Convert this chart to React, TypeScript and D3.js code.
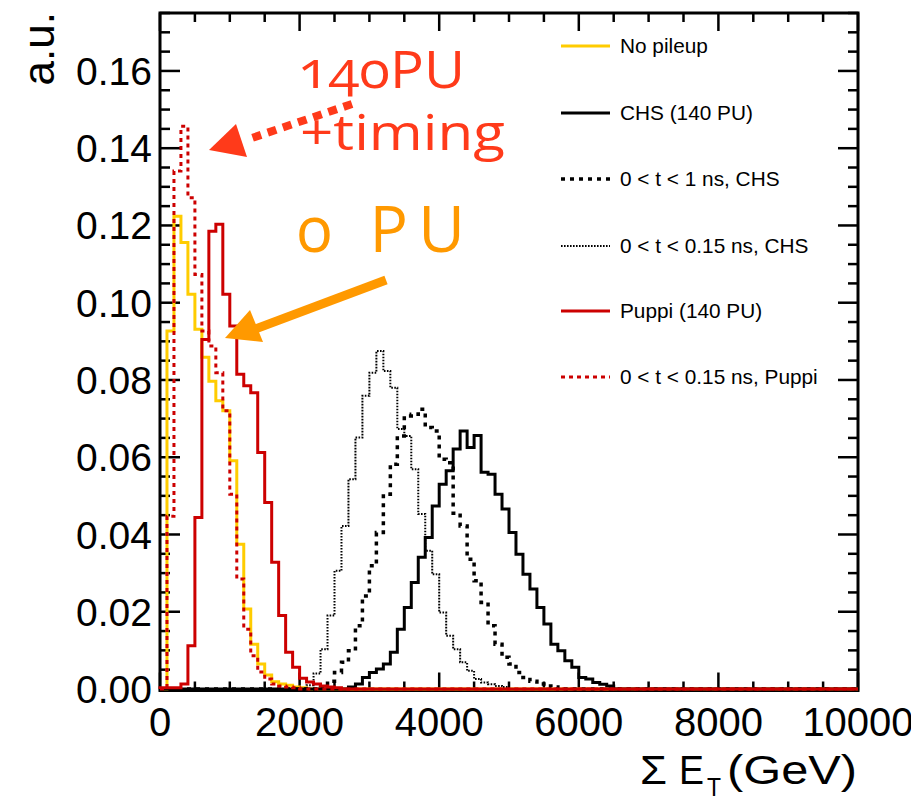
import React from 'react';
import * as d3 from 'd3';

// ---------- data ----------
const BIN_WIDTH = 100;
const N_BINS = 100;
const X_MAX = 10000;
const Y_MAX = 0.175;

// No pileup (bins start at 0 GeV)
const noPileupStart = 0;
const noPileup = [0, 0.0927, 0.1224, 0.1156, 0.1022, 0.0931, 0.0859, 0.0797, 0.0746, 0.072, 0.0591, 0.0375, 0.0207, 0.0116, 0.0065, 0.0036, 0.0019, 0.0013, 0.001, 0.0005, 0.0003];

// CHS (140 PU)
const chsStart = 27;
const chs = [0.0005, 0.0013, 0.003, 0.0043, 0.0052, 0.0065, 0.0095, 0.0155, 0.0211, 0.0276, 0.0341, 0.0392, 0.0474, 0.053, 0.0565, 0.0621, 0.0668, 0.0625, 0.0656, 0.0561, 0.0556, 0.0504, 0.0466, 0.0405, 0.0349, 0.0297, 0.0259, 0.0211, 0.0168, 0.0116, 0.0099, 0.0073, 0.0056, 0.003, 0.0026, 0.0017, 0.0012, 0.0008];

// 0 < t < 1 ns, CHS
const chsT1Start = 23;
const chsT1 = [0.0005, 0.002, 0.0043, 0.0069, 0.0099, 0.0164, 0.0241, 0.0319, 0.0405, 0.0504, 0.0582, 0.0655, 0.0707, 0.0711, 0.0724, 0.0677, 0.0668, 0.0595, 0.0586, 0.0455, 0.0422, 0.0336, 0.028, 0.0224, 0.0164, 0.0116, 0.0082, 0.0065, 0.0043, 0.003, 0.002, 0.0013, 0.0008, 0.0005];

// 0 < t < 0.15 ns, CHS
const chsT015Start = 21;
const chsT015 = [0.001, 0.004, 0.0103, 0.019, 0.0306, 0.0422, 0.0543, 0.0651, 0.0759, 0.0819, 0.0875, 0.0823, 0.078, 0.0673, 0.0655, 0.0569, 0.0453, 0.0358, 0.0297, 0.0198, 0.0138, 0.0103, 0.0069, 0.0047, 0.0026, 0.0017, 0.0012, 0.0008, 0.0005];

// Puppi (140 PU)
const puppiStart = 0;
const puppi = [0.0003, 0.0003, 0.0003, 0.0013, 0.0112, 0.0444, 0.0905, 0.1185, 0.1203, 0.1022, 0.094, 0.0815, 0.0785, 0.0767, 0.0612, 0.0483, 0.0328, 0.019, 0.0095, 0.0056, 0.0028, 0.0018, 0.0013, 0.0008, 0.0005, 0.0003];

// 0 < t < 0.15 ns, Puppi
const puppiTStart = 0;
const puppiT = [0, 0.0447, 0.1341, 0.1457, 0.1272, 0.1073, 0.0927, 0.0888, 0.0819, 0.072, 0.0504, 0.0285, 0.0155, 0.0086, 0.0044, 0.0026, 0.0013, 0.0008, 0.0005, 0.0003];

const xTickValues = [0, 2000, 4000, 6000, 8000, 10000];
const xTickLabels = ['0', '2000', '4000', '6000', '8000', '10000'];
const yTickValues = [0, 0.02, 0.04, 0.06, 0.08, 0.1, 0.12, 0.14, 0.16];
const yTickLabels = ['0.00', '0.02', '0.04', '0.06', '0.08', '0.10', '0.12', '0.14', '0.16'];

const legendLabels = ['No pileup', 'CHS (140 PU)', '0 < t < 1 ns, CHS', '0 < t < 0.15 ns, CHS', 'Puppi (140 PU)', '0 < t < 0.15 ns, Puppi'];

// ---------- styles ----------
const YELLOW = '#ffcc00';
const RED = '#cc0000';
const BLACK = '#000000';

const series = [
  { start: noPileupStart, vals: noPileup, color: YELLOW, width: 3, dash: 'none' },
  { start: chsStart, vals: chs, color: BLACK, width: 3, dash: 'none' },
  { start: chsT1Start, vals: chsT1, color: BLACK, width: 3.5, dash: '4,5' },
  { start: chsT015Start, vals: chsT015, color: BLACK, width: 2, dash: '1.6,1.4' },
  { start: puppiStart, vals: puppi, color: RED, width: 3, dash: 'none' },
  { start: puppiTStart, vals: puppiT, color: RED, width: 3, dash: '4,4' },
];
const legendOrder = [0, 1, 2, 3, 4, 5];

const W = 911;
const H = 804;
const L = 160, R = 858, T = 13, B = 689;
const FONT = '"Liberation Sans", Arial, Helvetica, sans-serif';

export default function App() {
  const x = d3.scaleLinear().domain([0, X_MAX]).range([L, R]);
  const y = d3.scaleLinear().domain([0, Y_MAX]).range([B, T]);

  const line = d3
    .line<[number, number]>()
    .x((d) => x(d[0]))
    .y((d) => y(d[1]))
    .curve(d3.curveStepAfter);

  const histPath = (start: number, vals: number[]) => {
    const full = new Array(N_BINS).fill(0);
    vals.forEach((v, i) => (full[start + i] = v));
    const pts: [number, number][] = [[0, 0]];
    full.forEach((v, i) => pts.push([i * BIN_WIDTH, v]));
    pts.push([X_MAX, full[N_BINS - 1]]);
    pts.push([X_MAX, 0]);
    return line(pts) || '';
  };

  const xMinor = d3.range(0, X_MAX + 1, 500);
  const yMinor = d3.range(0, Y_MAX + 1e-9, 0.005);
  const frameB = B + 1.5;

  const legY = [46, 113, 179, 246, 311, 377];

  return (
    <svg width={W} height={H} style={{ position: 'absolute', left: 0, top: 0, background: '#fff' }} fontFamily={FONT}>
      <rect x={0} y={0} width={W} height={H} fill="#fff" />
      {/* ticks */}
      <g stroke="#000" strokeWidth={2.5}>
        {xMinor.map((v, i) => {
          const len = v % 2000 === 0 ? 18 : 9;
          return (
            <g key={'xt' + i}>
              <line x1={x(v)} x2={x(v)} y1={frameB} y2={frameB - len} />
              <line x1={x(v)} x2={x(v)} y1={T} y2={T + len} />
            </g>
          );
        })}
        {yMinor.map((v, i) => {
          const len = i % 4 === 0 ? 20 : 10;
          return (
            <g key={'yt' + i}>
              <line x1={L} x2={L + len} y1={y(v)} y2={y(v)} />
              <line x1={R} x2={R - len} y1={y(v)} y2={y(v)} />
            </g>
          );
        })}
      </g>
      {/* frame */}
      <rect x={L} y={T} width={R - L} height={frameB - T} fill="none" stroke="#000" strokeWidth={3} />

      {/* histograms */}
      {series.map((s, i) => (
        <path
          key={'h' + i}
          d={histPath(s.start, s.vals)}
          fill="none"
          stroke={s.color}
          strokeWidth={s.width}
          strokeDasharray={s.dash}
          strokeLinejoin="miter"
        />
      ))}

      {/* tick labels */}
      {yTickValues.map((v, i) => (
        <text key={'yl' + i} x={152} y={y(v)} dy="0.36em" textAnchor="end" fontSize={39}>
          {yTickLabels[i]}
        </text>
      ))}
      {xTickValues.map((v, i) => (
        <text key={'xl' + i} x={x(v)} y={736} textAnchor="middle" fontSize={40}>
          {xTickLabels[i]}
        </text>
      ))}

      {/* axis titles */}
      <text transform={`translate(54,12) rotate(-90)`} textAnchor="end" fontSize={44}>
        a.u.
      </text>
      <g fontSize={40}>
        <text x={640} y={784} textLength={27} lengthAdjust="spacingAndGlyphs">Σ</text>
        <text x={679} y={784} textLength={25} lengthAdjust="spacingAndGlyphs">E</text>
        <text x={707} y={796} fontSize={25} textLength={14} lengthAdjust="spacingAndGlyphs">T</text>
        <text x={727} y={784} textLength={130} lengthAdjust="spacingAndGlyphs">(GeV)</text>
      </g>

      {/* legend */}
      {legendOrder.map((si, i) => {
        const s = series[si];
        return (
          <g key={'lg' + i}>
            <line x1={561} x2={610} y1={legY[i]} y2={legY[i]} stroke={s.color} strokeWidth={s.width} strokeDasharray={s.dash} />
            <text x={620} y={legY[i]} dy="0.36em" fontSize={20.8}>
              {legendLabels[i]}
            </text>
          </g>
        );
      })}

      {/* annotations */}
      <g fontFamily='"Open Sans", Lato, sans-serif'>
        <text x={298} y={88} fontSize={52} fill="#ff3a1a" textLength={167} lengthAdjust="spacingAndGlyphs" style={{ fontVariantNumeric: 'oldstyle-nums' }}>
          140PU
        </text>
        <text x={300} y={150} fontSize={50} fill="#ff3a1a" textLength={205} lengthAdjust="spacingAndGlyphs">
          +timing
        </text>
        <text x={297} y={252} fontSize={64} fill="#ff9900" textLength={168} lengthAdjust="spacing" style={{ fontVariantNumeric: 'oldstyle-nums' }}>
          0 PU
        </text>
      </g>
      {/* red dashed arrow */}
      <line x1={352} y1={104} x2={246} y2={140} stroke="#ff3a1a" strokeWidth={8} strokeDasharray="9,7" />
      <polygon points="209,150 236,124 247,157" fill="#ff3a1a" />
      {/* orange arrow */}
      <line x1={386} y1={280} x2={250} y2={331} stroke="#ff9900" strokeWidth={9} />
      <polygon points="225,338 250,310 263,342" fill="#ff9900" />
    </svg>
  );
}
